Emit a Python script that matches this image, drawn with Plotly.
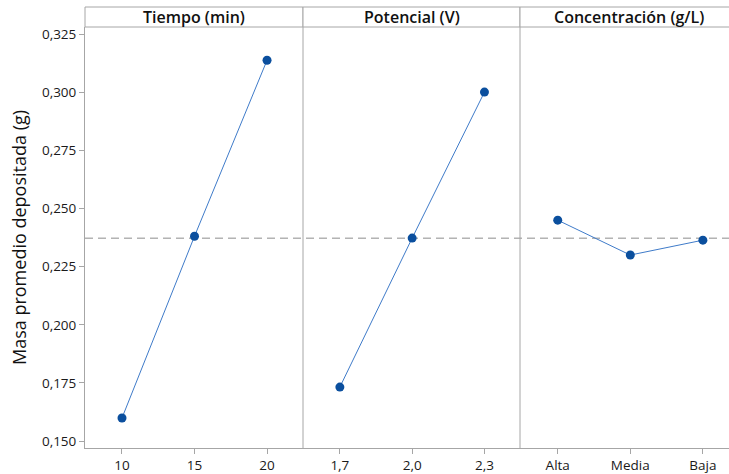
import plotly.graph_objects as go

# Main effects on mean deposited mass
tiempo_niveles = [10, 15, 20]
tiempo_media = [0.1599, 0.2381, 0.3138]

potencial_niveles = [1.7, 2.0, 2.3]
potencial_media = [0.1732, 0.2373, 0.3001]

concentracion_niveles = ["Alta", "Media", "Baja"]
concentracion_media = [0.2450, 0.2300, 0.2364]

paneles = ["Tiempo (min)", "Potencial (V)", "Concentración (g/L)"]
y_ticks = [0.150, 0.175, 0.200, 0.225, 0.250, 0.275, 0.300, 0.325]

media_global = sum(tiempo_media) / len(tiempo_media)

W, H = 729, 474
ML, MR, MT, MB = 85, 0, 27, 26
plot_w = W - ML - MR
plot_h = H - MT - MB
d1 = (303 - ML) / plot_w
d2 = (520 - ML) / plot_w
head_h = 20 / plot_h

GRID = "#a6a6a6"
LINE = "#3f7bc9"
MARK = "#0b4f9e"
FONT = "Open Sans"
TICKFONT = dict(family=FONT, size=13.5, color="#1a1a1a")

fig = go.Figure()
series = [
    (tiempo_niveles, tiempo_media, "x", "y"),
    (potencial_niveles, potencial_media, "x2", "y"),
    (concentracion_niveles, concentracion_media, "x3", "y"),
]
for xs, ys, xa, ya in series:
    fig.add_trace(go.Scatter(
        x=xs, y=ys, xaxis=xa, yaxis=ya, mode="lines+markers",
        line=dict(color=LINE, width=1),
        marker=dict(color=MARK, size=9),
        showlegend=False, hoverinfo="x+y",
    ))

ax_common = dict(
    showgrid=False, zeroline=False, showline=True, linecolor=GRID, linewidth=1,
    ticks="outside", ticklen=5, tickcolor=GRID,
    tickfont=TICKFONT, anchor="y", fixedrange=True,
)

fig.update_layout(
    width=W, height=H,
    margin=dict(l=ML, r=MR, t=MT, b=MB),
    paper_bgcolor="white", plot_bgcolor="white",
    separators=",.",
    xaxis=dict(domain=[0, d1], range=[7.45, 22.48],
               tickvals=tiempo_niveles, tickformat="d", **ax_common),
    xaxis2=dict(domain=[d1, d2], range=[1.547, 2.4475],
                tickvals=potencial_niveles, tickformat=".1f", **ax_common),
    xaxis3=dict(domain=[d2, 1], range=[-0.52, 2.36], type="category",
                **ax_common),
    yaxis=dict(range=[0.147, 0.3281], tickvals=y_ticks, tickformat=".3f",
               showgrid=False, zeroline=False, showline=True, linecolor=GRID,
               ticks="outside", ticklen=5, tickcolor=GRID,
               tickfont=TICKFONT,
               title=dict(text="Masa promedio depositada (g)", standoff=10,
                          font=dict(family=FONT, size=18, color="#111")),
               fixedrange=True),
)

# Reference line at the overall mean
fig.add_shape(type="line", xref="paper", yref="y", x0=0, x1=1,
              y0=media_global, y1=media_global,
              line=dict(color="#8c8c8c", width=1, dash="8px,5px"), layer="below")

# Panel dividers and header strips
bounds = [0, d1, d2, 1]
for xb in [d1, d2]:
    fig.add_shape(type="line", xref="paper", yref="paper", x0=xb, x1=xb,
                  y0=0, y1=1 + head_h, line=dict(color=GRID, width=1))
for i, name in enumerate(paneles):
    x0, x1 = bounds[i], bounds[i + 1]
    fig.add_shape(type="rect", xref="paper", yref="paper", x0=x0, x1=x1 + (0.01 if i == 2 else 0),
                  y0=1, y1=1 + head_h, line=dict(color=GRID, width=1),
                  fillcolor="white")
    cx = (x0 + x1) / 2 if i < 2 else (x0 + (737 - ML) / plot_w) / 2
    fig.add_annotation(x=cx, y=1 + head_h / 2, xref="paper", yref="paper",
                       text=name, showarrow=False,
                       font=dict(family=FONT, size=16, color="#111", weight=600),
                       xanchor="center", yanchor="middle")

fig.write_html("out.html")
